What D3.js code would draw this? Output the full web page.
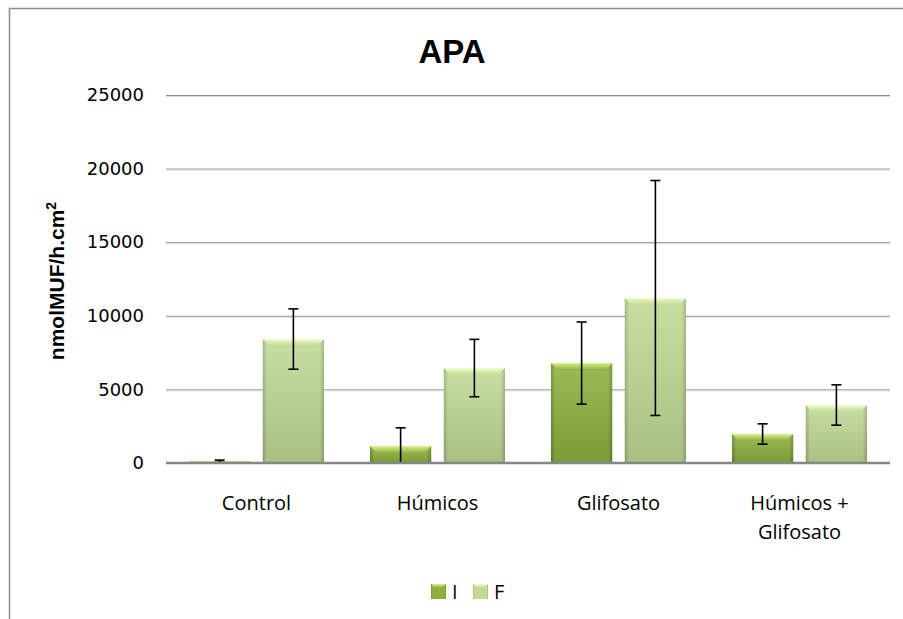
<!DOCTYPE html>
<html>
<head>
<meta charset="utf-8">
<script src="https://cdn.jsdelivr.net/npm/d3@7"></script>
<style>
  body { margin: 0; background: #fff; }
  svg { display: block; }
  .tick text { font-family: 'DejaVu Sans', sans-serif; }
</style>
</head>
<body>
<div id="chart"></div>
<script>
// data
var categories = ['Control', 'Húmicos', 'Glifosato', 'Húmicos + Glifosato']
var series = ['I', 'F']
var valuesI = [120, 1150, 6790, 1970]
var valuesF = [8420, 6450, 11210, 3940]
var errorsI = [80, 1240, 2790, 690]
var errorsF = [2050, 1950, 7980, 1370]
var yTicks = [0, 5000, 10000, 15000, 20000, 25000]

var W = 903, H = 619
var margin = { top: 95, right: 13, bottom: 156, left: 166 }
var w = W - margin.left - margin.right
var h = H - margin.top - margin.bottom

var svg = d3.select('#chart').append('svg')
  .attr('width', W)
  .attr('height', H)

// gradients for the bevel look
var defs = svg.append('defs')
function makeGrad(id, edge, mid, light) {
  var g = defs.append('linearGradient').attr('id', id)
    .attr('x1', '0').attr('x2', '1').attr('y1', '0').attr('y2', '0')
  g.append('stop').attr('offset', '0%').attr('stop-color', edge)
  g.append('stop').attr('offset', '7%').attr('stop-color', mid)
  g.append('stop').attr('offset', '93%').attr('stop-color', mid)
  g.append('stop').attr('offset', '100%').attr('stop-color', edge)
  var v = defs.append('linearGradient').attr('id', id + 'v')
    .attr('x1', '0').attr('x2', '0').attr('y1', '0').attr('y2', '1')
  v.append('stop').attr('offset', '0%').attr('stop-color', '#fff').attr('stop-opacity', 0.12)
  v.append('stop').attr('offset', '100%').attr('stop-color', '#000').attr('stop-opacity', 0.12)
  var t = defs.append('linearGradient').attr('id', id + 't')
    .attr('x1', '0').attr('x2', '0').attr('y1', '0').attr('y2', '1')
  t.append('stop').attr('offset', '0%').attr('stop-color', light)
  t.append('stop').attr('offset', '100%').attr('stop-color', mid)
}
makeGrad('gI', '#6a8a2c', '#8db13f', '#d8f28e')
makeGrad('gF', '#9bae7b', '#c1da94', '#f2fccc')

// chart border
svg.append('path')
  .attr('d', 'M9.5,' + (H + 2) + 'V8.5H' + (W + 2))
  .attr('fill', 'none')
  .attr('stroke', '#8c8c8c')
  .attr('stroke-width', 1.5)

var g = svg.append('g')
  .attr('transform', 'translate(' + margin.left + ',' + margin.top + ')')

var x0 = d3.scaleBand().domain(categories).range([0, w])
var x1 = d3.scaleBand().domain(series).range([23, x0.bandwidth() - 23]).paddingInner(0.17)
var y = d3.scaleLinear().domain([0, 25000]).range([h, 0])

// grid lines
g.append('g')
  .attr('class', 'grid')
  .call(d3.axisLeft(y).tickValues(yTicks).tickSize(-w).tickFormat(''))
  .call(function(s) {
    s.select('.domain').remove()
    s.selectAll('.tick line').attr('stroke', '#8a8a8a').attr('stroke-width', 1)
  })
g.append('g')
  .call(d3.axisLeft(y).tickValues(yTicks.slice(1)).tickSize(-w).tickFormat(''))
  .attr('transform', 'translate(0,1)')
  .call(function(s) {
    s.select('.domain').remove()
    s.selectAll('.tick line').attr('stroke', '#dcdcdc').attr('stroke-width', 1)
  })

// y tick labels
g.append('g')
  .call(d3.axisLeft(y).tickValues(yTicks).tickSize(0).tickPadding(22).tickFormat(d3.format('d')))
  .call(function(s) {
    s.select('.domain').remove()
    s.selectAll('text').attr('font-size', 18).attr('fill', '#000')
  })

// bars
var rows = categories.map(function(c, i) {
  return [
    { cat: c, key: 'I', v: valuesI[i], e: errorsI[i] },
    { cat: c, key: 'F', v: valuesF[i], e: errorsF[i] }
  ]
})

var groups = g.selectAll('.cat')
  .data(rows)
  .enter().append('g')
  .attr('class', 'cat')
  .attr('transform', function(d) { return 'translate(' + x0(d[0].cat) + ',0)' })

var bars = groups.selectAll('.bar')
  .data(function(d) { return d })
  .enter().append('g')
  .attr('class', 'bar')

bars.append('rect')
  .attr('x', function(d) { return x1(d.key) })
  .attr('y', function(d) { return y(d.v) })
  .attr('width', x1.bandwidth())
  .attr('height', function(d) { return h - y(d.v) })
  .attr('fill', function(d) { return 'url(#g' + d.key + ')' })
bars.append('rect')
  .attr('x', function(d) { return x1(d.key) })
  .attr('y', function(d) { return y(d.v) })
  .attr('width', x1.bandwidth())
  .attr('height', function(d) { return h - y(d.v) })
  .attr('fill', function(d) { return 'url(#g' + d.key + 'v)' })

// top bevel
bars.append('path')
  .attr('d', function(d) {
    var xa = x1(d.key), xb = xa + x1.bandwidth(), yt = y(d.v)
    var b = Math.min(7, h - yt)
    return 'M' + xa + ',' + yt + 'H' + xb + 'L' + (xb - b) + ',' + (yt + b) + 'H' + (xa + b) + 'Z'
  })
  .attr('fill', function(d) { return 'url(#g' + d.key + 't)' })

// baseline
g.append('line')
  .attr('x1', 0).attr('x2', w)
  .attr('y1', h).attr('y2', h)
  .attr('stroke', '#878787')
  .attr('stroke-width', 2.5)

// error bars
var err = bars.append('g')
  .attr('stroke', '#000')
  .attr('stroke-width', 1.6)
err.append('line')
  .attr('x1', function(d) { return x1(d.key) + x1.bandwidth() / 2 })
  .attr('x2', function(d) { return x1(d.key) + x1.bandwidth() / 2 })
  .attr('y1', function(d) { return y(d.v + d.e) })
  .attr('y2', function(d) { return Math.min(h, y(d.v - d.e)) })
err.append('line')
  .attr('x1', function(d) { return x1(d.key) + x1.bandwidth() / 2 - 5 })
  .attr('x2', function(d) { return x1(d.key) + x1.bandwidth() / 2 + 5 })
  .attr('y1', function(d) { return y(d.v + d.e) })
  .attr('y2', function(d) { return y(d.v + d.e) })
err.filter(function(d) { return d.v - d.e > 0 }).append('line')
  .attr('x1', function(d) { return x1(d.key) + x1.bandwidth() / 2 - 5 })
  .attr('x2', function(d) { return x1(d.key) + x1.bandwidth() / 2 + 5 })
  .attr('y1', function(d) { return y(d.v - d.e) })
  .attr('y2', function(d) { return y(d.v - d.e) })

// category labels
var catText = g.selectAll('.catlabel')
  .data(categories)
  .enter().append('text')
  .attr('class', 'catlabel')
  .attr('x', function(d) { return x0(d) + x0.bandwidth() / 2 })
  .attr('y', h + 47)
  .attr('text-anchor', 'middle')
  .attr('font-family', "'Open Sans', sans-serif")
  .attr('font-size', 20)
catText.each(function(d) {
  var t = d3.select(this)
  var parts = d === 'Húmicos + Glifosato' ? ['Húmicos +', 'Glifosato'] : [d]
  parts.forEach(function(p, i) {
    t.append('tspan')
      .attr('x', x0(d) + x0.bandwidth() / 2)
      .attr('dy', i === 0 ? 0 : 29)
      .text(p)
  })
})

// title
svg.append('text')
  .attr('x', 452)
  .attr('y', 63)
  .attr('text-anchor', 'middle')
  .attr('font-family', "'Liberation Sans', Arial, sans-serif")
  .attr('font-weight', 'bold')
  .attr('font-size', 33)
  .text('APA')

// y axis title
var yt = svg.append('text')
  .attr('transform', 'translate(64,281) rotate(-90)')
  .attr('text-anchor', 'middle')
  .attr('font-family', "'Liberation Sans', Arial, sans-serif")
  .attr('font-weight', 'bold')
  .attr('font-size', 21)
yt.append('tspan').text('nmolMUF/h.cm')
yt.append('tspan').attr('font-size', 14).attr('dy', -8).text('2')

// legend
var legend = svg.append('g')
  .attr('transform', 'translate(431,584)')
var li = legend.selectAll('.li')
  .data(series)
  .enter().append('g')
  .attr('transform', function(d, i) { return 'translate(' + (i * 42) + ',0)' })
li.append('rect')
  .attr('width', 15).attr('height', 15)
  .attr('fill', function(d) { return 'url(#g' + d + ')' })
li.append('path')
  .attr('d', 'M0,0H15L11,4H4Z')
  .attr('fill', function(d) { return 'url(#g' + d + 't)' })
li.append('text')
  .attr('x', 21)
  .attr('y', 15)
  .attr('font-family', "'Open Sans', sans-serif")
  .attr('font-size', 20)
  .text(function(d) { return d })
</script>
</body>
</html>
